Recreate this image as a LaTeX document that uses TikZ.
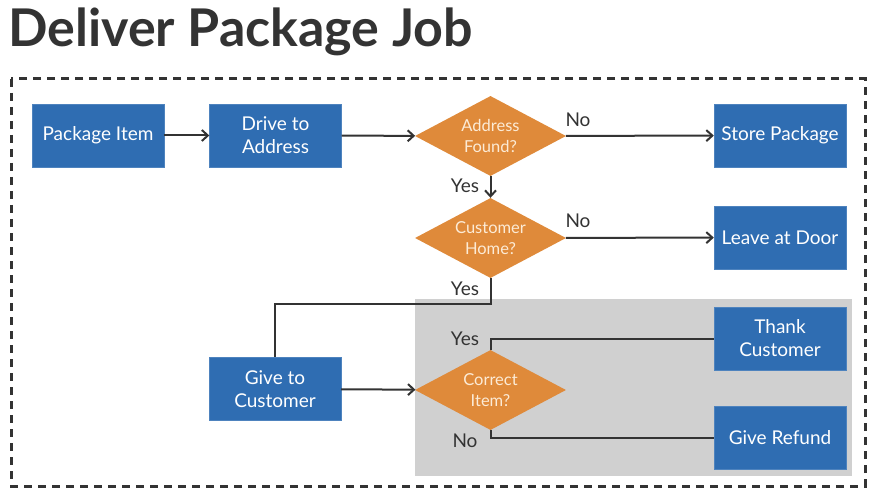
\documentclass[tikz,border=0pt]{standalone}
\usepackage{fontspec}
\setmainfont{Lato}
\usepackage{tikz}
\usetikzlibrary{shapes.geometric,arrows.meta}

\definecolor{boxblue}{HTML}{2F6DB2}
\definecolor{decorange}{HTML}{DF8A3A}
\definecolor{lightcream}{HTML}{FCEBD6}
\definecolor{linegray}{HTML}{333333}
\definecolor{panelgray}{HTML}{D0D0D0}

\tikzset{
  TaskStyle/.style = {rectangle, fill=boxblue, draw=boxblue!85!white, text=white,
                      minimum width=132pt, minimum height=63pt, inner sep=2pt,
                      align=center, font=\fontsize{19}{23}\selectfont},
  DecisionStyle/.style = {diamond, fill=decorange, text=lightcream, aspect=1.9,
                      minimum width=151pt, minimum height=80pt, inner sep=0pt,
                      align=center, font=\fontsize{16.5}{21}\selectfont},
  FlowStyle/.style = {draw=linegray, line width=2pt, -{Straight Barb[length=6pt,width=11pt]}},
  LinkStyle/.style = {draw=linegray, line width=2pt},
  AnswerStyle/.style = {text=linegray, inner sep=0pt, font=\fontsize{19}{21}\selectfont}
}

\begin{document}
\begin{tikzpicture}[x=1pt,y=-1pt]

\useasboundingbox (0,0) rectangle (874,494);
\fill[white] (0,0) rectangle (874,494);

% title and frame
\node[anchor=base west, inner sep=0pt, text=black!80,
      font=\fontsize{52}{54}\selectfont\bfseries] (title) at (8,47) {Deliver Package Job};
\draw[linegray, line width=3pt, dash pattern=on 8pt off 6pt] (11,79) rectangle (865,486);

% grey panel
\fill[panelgray] (415,299) rectangle (852,476);

% tasks
\node[TaskStyle] (pack)   at (98,135.5)  {Package Item};
\node[TaskStyle] (drive)  at (275.5,135.5) {Drive to\\Address};
\node[TaskStyle] (store)  at (780,135.5) {Store Package};
\node[TaskStyle] (door)   at (780,237.5) {Leave at Door};
\node[TaskStyle] (give)   at (275,389)   {Give to\\Customer};
\node[TaskStyle] (thank)  at (780,338.5) {Thank\\Customer};
\node[TaskStyle] (refund) at (780,437.5) {Give Refund};

% decisions
\node[DecisionStyle] (found) at (490.5,136) {Address\\Found?};
\node[DecisionStyle] (home)  at (490.5,238) {Customer\\Home?};
\node[DecisionStyle] (item)  at (490.5,390) {Correct\\Item?};

% connectors
\draw[FlowStyle] (pack)  -- (drive);
\draw[FlowStyle] (drive) -- (found);
\draw[FlowStyle] (found) -- (store);
\draw[FlowStyle] (found) -- (home);
\draw[FlowStyle] (home)  -- (door);
\draw[LinkStyle] (home.south) -- ++(0,26) -| (give.north);
\draw[FlowStyle] (give)  -- (item);
\draw[LinkStyle] (thank.west)  -| (item.north);
\draw[LinkStyle] (refund.west) -| (item.south);

% answers
\node[AnswerStyle] (foundno)  at (578,120) {No};
\node[AnswerStyle] (foundyes) at (465,186) {Yes};
\node[AnswerStyle] (homeno)   at (578,221) {No};
\node[AnswerStyle] (homeyes)  at (465,289) {Yes};
\node[AnswerStyle] (itemyes)  at (465,339) {Yes};
\node[AnswerStyle] (itemno)   at (465,441) {No};

\end{tikzpicture}
\end{document}
